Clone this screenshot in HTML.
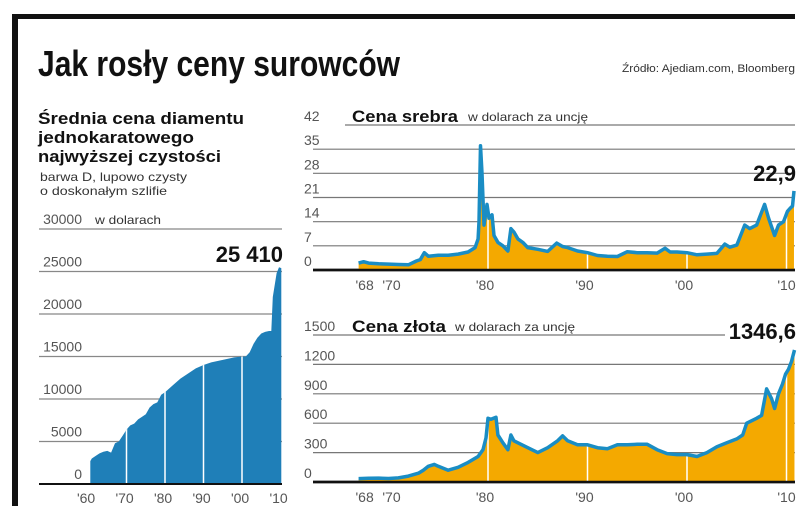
<!DOCTYPE html>
<html><head><meta charset="utf-8"><style>
body{margin:0;background:#fff}
svg{display:block;font-family:"Liberation Sans","DejaVu Sans",sans-serif}
</style></head><body>
<svg id="c" width="805" height="517" viewBox="0 0 805 517">
<rect x="12" y="14" width="783" height="5" fill="#111"/>
<rect x="12" y="14" width="6" height="492" fill="#111"/>
<text x="38" y="76" font-size="36" font-weight="bold" fill="#111" textLength="362" lengthAdjust="spacingAndGlyphs">Jak rosły ceny surowców</text>
<text x="795" y="72" font-size="11" fill="#333" text-anchor="end" textLength="173" lengthAdjust="spacingAndGlyphs">Źródło: Ajediam.com, Bloomberg</text>
<g>
<text x="38" y="124" font-size="17" font-weight="bold" fill="#111" textLength="206" lengthAdjust="spacingAndGlyphs">Średnia cena diamentu</text>
<text x="38" y="143" font-size="17" font-weight="bold" fill="#111" textLength="156" lengthAdjust="spacingAndGlyphs">jednokaratowego</text>
<text x="38" y="162" font-size="17" font-weight="bold" fill="#111" textLength="183" lengthAdjust="spacingAndGlyphs">najwyższej czystości</text>
<text x="40" y="181" font-size="12" fill="#333" textLength="147" lengthAdjust="spacingAndGlyphs">barwa D,  lupowo czysty</text>
<text x="40" y="195" font-size="12" fill="#333" textLength="127" lengthAdjust="spacingAndGlyphs">o doskonałym szlifie</text>
</g>
<g id="dia"></g>
<g id="sil"></g>
<g id="gol"></g>
</svg>
<script>
const diaYears=[1960.6,1961,1962,1963,1964,1965,1966,1967,1968,1969,1970,1971,1972,1973,1974,1975,1976,1977,1978,1979,1980,1982,1984,1986,1988,1990,1992,1995,1998,2000,2001,2002,2003,2004,2005,2006,2007,2007.6,2008,2009,2009.6,2010.2];
const diaVals=[2700,3000,3300,3600,3800,3900,3700,4800,5000,5700,6400,6900,7100,7600,7900,8200,9000,9400,9600,10500,10800,11600,12400,13000,13600,14000,14300,14600,14900,15000,15000,15500,16500,17200,17700,17900,18000,18000,22000,24800,25500,25400];
const diaTicks=[0,5000,10000,15000,20000,25000,30000];
const diaXLabels=["'60","'70","'80","'90","'00","'10"];
const diaXYears=[1959.5,1969.5,1979.5,1989.5,1999.5,2009.5];

const silYears=[1967,1967.5,1968,1969,1970,1971,1972,1972.8,1973.2,1973.6,1974,1975,1976,1977,1978,1978.7,1979,1979.1,1979.25,1979.4,1979.6,1979.9,1980.1,1980.4,1980.6,1981,1981.5,1982,1982.3,1982.6,1983,1983.5,1984,1985,1986,1986.9,1987.5,1988,1989,1990,1991,1992,1993,1994,1995,1996,1997,1997.8,1998.3,1999,2000,2001,2002,2003,2003.8,2004.3,2005,2005.8,2006.3,2007,2007.8,2008.2,2008.8,2009.2,2009.7,2010.1,2010.4,2010.6,2010.75];
const silVals=[2.0,2.4,2.0,1.8,1.7,1.6,1.5,2.6,3.0,5.0,4.0,4.3,4.3,4.6,5.2,6.5,9,14,36,28,13,19,15,16,10,8,7,5.5,12,11,9,8,6.5,6,5.4,7.8,6.8,6.5,5.5,5.0,4.2,4.0,3.9,5.3,5.0,5.0,4.9,6.3,5.2,5.2,5.0,4.4,4.6,4.8,7.5,6.6,7.2,13,12,13,19,15,10,13,14,17,18,18.5,22.9];
const silTicks=[0,7,14,21,28,35,42];
const xLabels=["'68","'70","'80","'90","'00","'10"];
const xYears=[1967.6,1970.3,1979.7,1989.7,1999.7,2010];

const golYears=[1967,1968,1969,1970,1971,1972,1973,1973.5,1974,1974.6,1975,1976,1977,1978,1979,1979.5,1979.8,1980,1980.3,1980.8,1981,1981.5,1982,1982.3,1982.6,1983,1984,1985,1986,1987,1987.5,1988,1989,1990,1991,1992,1993,1994,1995,1996,1997,1998,1999,2000,2001,2002,2003,2004,2005,2005.6,2006,2007,2007.5,2008,2008.5,2008.8,2009.2,2009.6,2009.9,2010.2,2010.5,2010.8];
const golVals=[35,38,40,36,42,60,90,120,160,180,160,120,150,200,260,330,450,650,640,660,480,400,330,480,420,400,350,300,350,420,470,420,380,380,350,340,380,380,385,385,330,290,280,280,260,300,360,400,440,480,600,650,680,950,850,750,900,1000,1100,1150,1230,1346.6];
const golTicks=[0,300,600,900,1200,1500];

const NS="http://www.w3.org/2000/svg";
function mk(parent,tag,attrs,text){const e=document.createElementNS(NS,tag);for(const k in attrs)e.setAttribute(k,attrs[k]);if(text!==undefined)e.textContent=text;parent.appendChild(e);return e;}

// Diamond
(function(){
const g=document.getElementById('dia');
const x=y=>88+(y-1960)*3.85, y=v=>484-v*(255/30000);
diaTicks.forEach((t,i)=>{
 const l=mk(g,'line',{x1:39,x2:282,y1:y(t),y2:y(t),stroke:t===0?'#111':'#888','stroke-width':t===0?2:1.2});
 
 
 const tx=mk(g,'text',{x:82,y:y(t)-5,'font-size':14,fill:'#555','text-anchor':'end'},String(t));
 
 
});
const u=mk(g,'text',{x:95,y:y(30000)-5,'font-size':12,fill:'#333',textLength:66,lengthAdjust:'spacingAndGlyphs'},'w dolarach');


let d='M'+x(diaYears[0])+','+y(0);
diaYears.forEach((yr,i)=>d+=' L'+x(yr).toFixed(1)+','+y(diaVals[i]).toFixed(1));
d+=' L'+x(diaYears[diaYears.length-1]).toFixed(1)+','+y(0)+'Z';
const a=mk(g,'path',{d:d,fill:'#1f7fb8'});


const cp=mk(mk(g,'defs',{}),'clipPath',{id:'dclip'});mk(cp,'path',{d:d});
[1970,1980,1990,2000].forEach(yr=>{const l=mk(g,'line',{x1:x(yr),x2:x(yr),y1:y(0)-1,y2:240,stroke:'#fff','stroke-width':1.5,'clip-path':'url(#dclip)'});});
mk(g,'line',{x1:39,x2:282,y1:y(0),y2:y(0),stroke:'#111','stroke-width':2});
diaXLabels.forEach((lb,i)=>{const t=mk(g,'text',{x:x(diaXYears[i]),y:503,'font-size':14,fill:'#555','text-anchor':'middle'},lb);});
const v=mk(g,'text',{x:283,y:262,'font-size':22,'font-weight':'bold',fill:'#111','text-anchor':'end'},'25 410');


})();

function line(gid,years,vals,ticks,y0,y1,vmax,title,titleW,sub,subX,last,lastY,topEnd,name){
 const g=document.getElementById(gid);
 const x=yr=>488+(yr-1980)*9.95, y=v=>y0-v*(y0-y1)/vmax;
 ticks.forEach(t=>{
  const isTop=t===vmax;
  const l=mk(g,'line',{x1:isTop?(gid==='sil'?345:313):313,x2:isTop?topEnd:795,y1:y(t),y2:y(t),stroke:t===0?'#111':'#777','stroke-width':t===0?2.5:1.2});
  
  
  const tx=mk(g,'text',{x:304,y:y(t)-4,'font-size':14,fill:'#555'},String(t));
  
  
 });
 let pts=years.map((yr,i)=>x(yr).toFixed(1)+','+y(vals[i]).toFixed(1));
 const area='M'+x(years[0])+','+y(0)+' L'+pts.join(' L')+' L'+x(years[years.length-1])+','+y(0)+'Z';
 const a=mk(g,'path',{d:area,fill:'#f4a900'});
 
 
 const cp=mk(mk(g,'defs',{}),'clipPath',{id:'c'+gid});mk(cp,'path',{d:area});
 [1980,1990,2000,2010].forEach(yr=>{const l=mk(g,'line',{x1:x(yr),x2:x(yr),y1:y(0),y2:y(vmax),stroke:'#fff','stroke-width':1.5,'clip-path':'url(#c'+gid+')'});});
 const p=mk(g,'polyline',{points:pts.join(' '),fill:'none',stroke:'#1a8dc4','stroke-width':3.5,'stroke-linejoin':'round'});
 
 
 mk(g,'line',{x1:313,x2:795,y1:y(0),y2:y(0),stroke:'#111','stroke-width':2.5});
 xLabels.forEach((lb,i)=>{const t=mk(g,'text',{x:x(xYears[i]),y:y(0)+20,'font-size':14,fill:'#555','text-anchor':'middle'},lb);});
 const tt=mk(g,'text',{x:352,y:y(vmax)-3,'font-size':17,'font-weight':'bold',fill:'#111',textLength:titleW,lengthAdjust:'spacingAndGlyphs'},title);
 
 
 const st=mk(g,'text',{x:subX,y:y(vmax)-4,'font-size':12,fill:'#333',textLength:120,lengthAdjust:'spacingAndGlyphs'},sub);
 
 
 const lv=mk(g,'text',{x:796,y:lastY,'font-size':22,'font-weight':'bold',fill:'#111','text-anchor':'end'},last);
 
 
}
line('sil',silYears,silVals,silTicks,270,125,42,'Cena srebra',106,'w dolarach za uncję',468,'22,9',181,795,'silver');
line('gol',golYears,golVals,golTicks,482,335,1500,'Cena złota',94,'w dolarach za uncję',455,'1346,6',339,725,'gold');
</script>
</body></html>
